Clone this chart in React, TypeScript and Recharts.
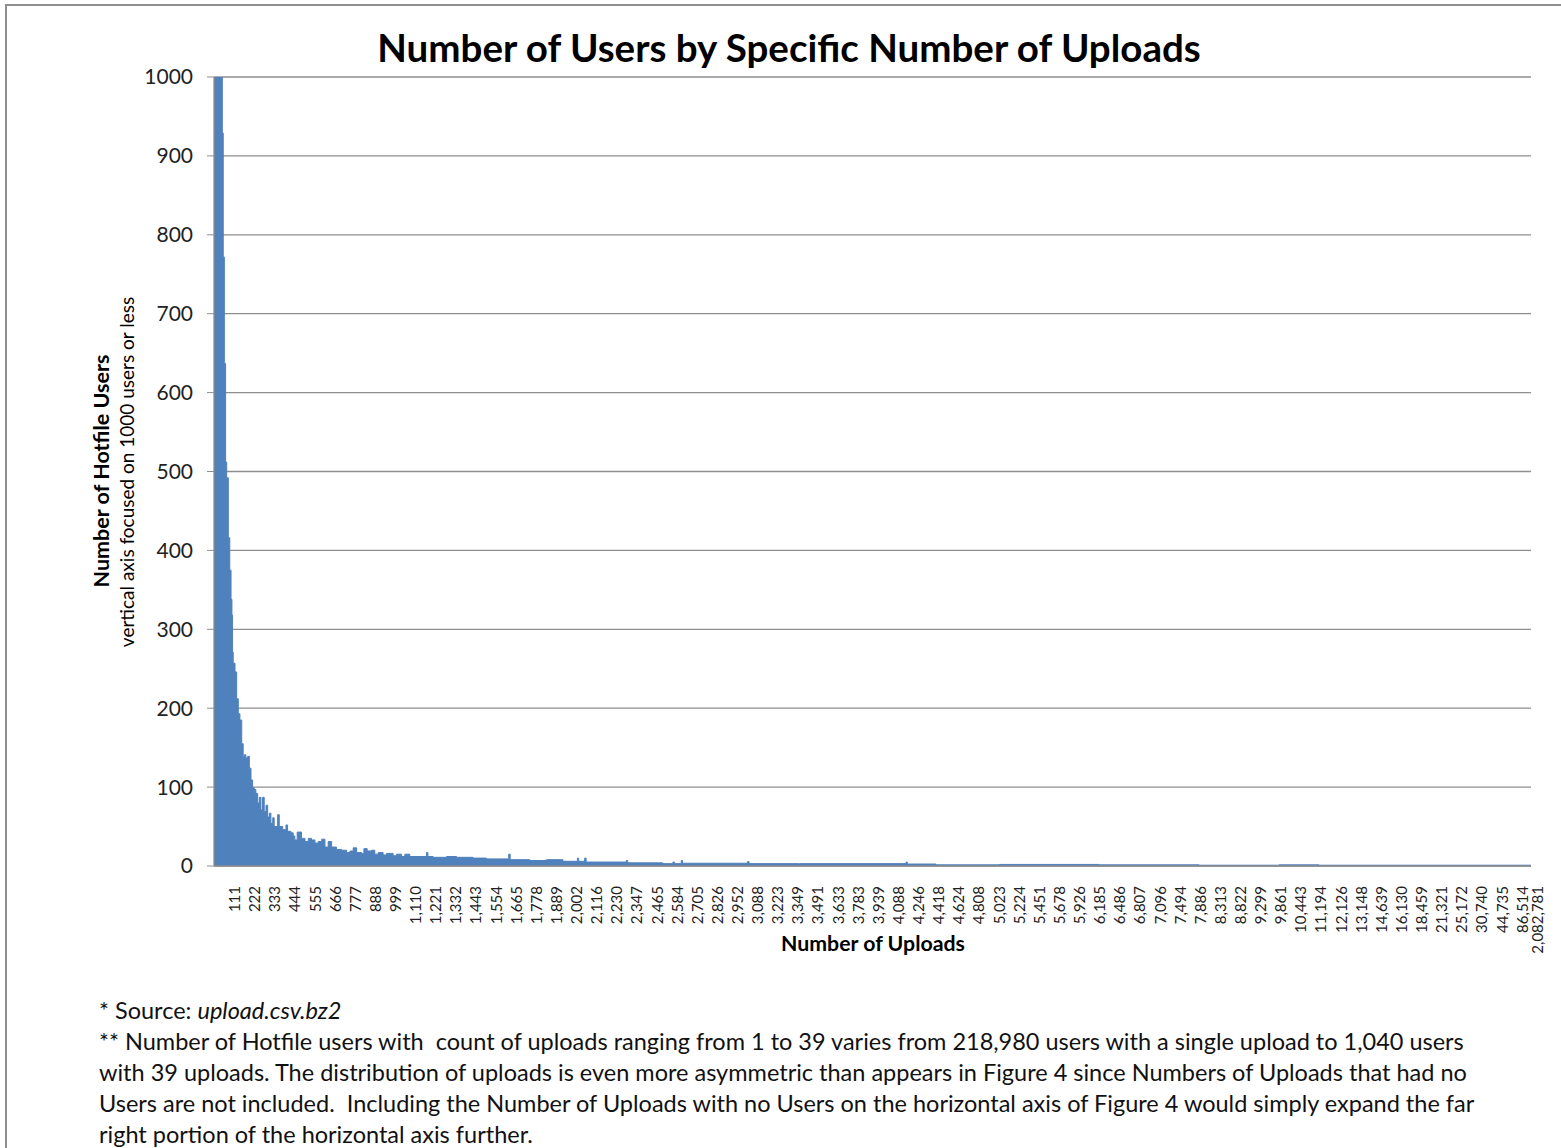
import { AreaChart, Area, XAxis, YAxis, CartesianGrid } from 'recharts';

// rank of the upload count among all counts that have users (x position, one bar per rank)
const sampleIndex = [
    0, 39, 46, 51, 57, 64, 70, 79, 87, 94, 99, 102, 106, 116, 125, 134, 143, 153, 161,
    167, 176, 186, 195, 204, 213, 222, 231, 241, 250, 259, 268, 277, 287, 296, 305, 314,
    324, 332, 351, 360, 379, 397, 406, 424, 437, 446, 459, 474, 483, 502, 520, 538, 557,
    575, 594, 612, 630, 649, 676, 704, 731, 750, 768, 787, 814, 827, 845, 869, 887, 906,
    933, 952, 988, 1007, 1035, 1053, 1080, 1172, 1180, 1209, 1283, 1338, 1429, 1503, 1626,
    1634, 1742, 1834, 1925, 2005, 2012, 2045, 2053, 2201, 2275, 2282, 2385, 2476, 2532,
    2541, 2578, 2585, 2943, 2952, 3230, 3818, 3825, 3983, 4332, 4883, 5435, 5876, 6096, 7266,
];

// number of users at that rank (axis capped at 1000)
const sampleUsers = [
    218980, 1040, 929, 772, 637, 512, 492, 416, 375, 338, 318, 271, 257, 246, 212, 193, 185, 155, 138,
    141, 137, 139, 124, 109, 99, 97, 92, 80, 87, 71, 87, 69, 77, 62, 67, 54,
    61, 50, 65, 50, 46, 52, 44, 42, 38, 33, 43, 43, 35, 31, 35, 33, 29,
    31, 34, 24, 31, 24, 21, 20, 17, 19, 23, 17, 16, 22, 19, 20, 15, 17,
    14, 16, 13, 15, 12, 15, 12, 17, 12, 11, 12, 11, 10, 9, 15,
    8, 7, 8, 6, 10, 6, 10, 5, 5, 7, 4, 4, 3, 5,
    3, 7, 3.5, 5.5, 3, 3, 5, 2.5, 1.5, 2, 1.5, 1, 1.5, 1, 1,
];

const TOTAL_CATEGORIES = 7266;

const tickLabels = [
    '111', '222', '333', '444', '555', '666', '777', '888', '999', '1,110', '1,221', '1,332',
    '1,443', '1,554', '1,665', '1,778', '1,889', '2,002', '2,116', '2,230', '2,347', '2,465',
    '2,584', '2,705', '2,826', '2,952', '3,088', '3,223', '3,349', '3,491', '3,633', '3,783',
    '3,939', '4,088', '4,246', '4,418', '4,624', '4,808', '5,023', '5,224', '5,451', '5,678',
    '5,926', '6,185', '6,486', '6,807', '7,096', '7,494', '7,886', '8,313', '8,822', '9,299',
    '9,861', '10,443', '11,194', '12,126', '13,148', '14,639', '16,130', '18,459', '21,321',
    '25,172', '30,740', '44,735', '86,514', '2,082,781',
];

const yTicks = [0, 100, 200, 300, 400, 500, 600, 700, 800, 900, 1000];

const footnotes = [
    '** Number of Hotfile users with  count of uploads ranging from 1 to 39 varies from 218,980 users with a single upload to 1,040 users',
    'with 39 uploads. The distribution of uploads is even more asymmetric than appears in Figure 4 since Numbers of Uploads that had no',
    'Users are not included.  Including the Number of Uploads with no Users on the horizontal axis of Figure 4 would simply expand the far',
    'right portion of the horizontal axis further.',
];

// every 111th category is labelled, plus the last one
const tickPositions = tickLabels.map((_, i) =>
    i === tickLabels.length - 1 ? TOTAL_CATEGORIES - 0.5 : (i + 1) * 111 - 0.5
);
const labelAt: Record<number, string> = {};
tickPositions.forEach((p, i) => { labelAt[p] = tickLabels[i]; });

const chartData = sampleIndex.map((idx, i) => ({ idx, users: sampleUsers[i] }));

const FONT = 'Lato, "Open Sans", sans-serif';
const GRID = '#8e8e8e';

const XTick = ({ x, y, payload }: any) => {
    // the last label sits a little past the end of the axis, clear of its neighbour
    const tx = payload.value === TOTAL_CATEGORIES - 0.5 ? x + 6 : x;
    const ty = y + 12;
    return (
        <text
            x={tx}
            y={ty}
            transform={`rotate(-90, ${tx}, ${ty})`}
            textAnchor="end"
            dominantBaseline="central"
            fontSize={15}
            fontFamily={FONT}
            fill="#222"
        >
            {labelAt[payload.value] ?? ''}
        </text>
    );
};

export default function App() {
    return (
        <div style={{ position: 'absolute', left: 0, top: 0, width: 1561, height: 1148, overflow: 'hidden', background: '#fff', fontFamily: FONT }}>
            <div style={{ position: 'absolute', left: 5, top: 4, width: 1600, height: 1200, border: '2px solid #8f8f8f' }} />

            <div style={{ position: 'absolute', left: 0, top: 0 }}>
                <AreaChart width={1561} height={1148} data={chartData} margin={{ top: 77, right: 30, left: 0, bottom: 202 }}>
                    <CartesianGrid vertical={false} stroke={GRID} strokeWidth={1.3} />
                    <XAxis
                        type="number"
                        dataKey="idx"
                        domain={[0, TOTAL_CATEGORIES]}
                        ticks={tickPositions}
                        interval={0}
                        tick={<XTick />}
                        tickLine={false}
                        axisLine={{ stroke: GRID, strokeWidth: 1.3 }}
                        height={80}
                        allowDataOverflow
                    />
                    <YAxis
                        type="number"
                        domain={[0, 1000]}
                        ticks={yTicks}
                        interval={0}
                        allowDataOverflow
                        width={214}
                        tickSize={7}
                        tickMargin={14}
                        tickLine={{ stroke: GRID }}
                        axisLine={{ stroke: GRID, strokeWidth: 1.3 }}
                        tick={{ fontSize: 21, fontFamily: FONT, fill: '#222' }}
                    />
                    <Area
                        type="stepAfter"
                        dataKey="users"
                        stroke="#4F81BD"
                        strokeWidth={1}
                        fill="#4F81BD"
                        fillOpacity={1}
                        isAnimationActive={false}
                    />
                </AreaChart>
            </div>

            <div style={{ position: 'absolute', left: 0, width: 1578, top: 24, textAlign: 'center', fontSize: 38.5, fontWeight: 700, color: '#000' }}>
                Number of Users by Specific Number of Uploads
            </div>

            <svg style={{ position: 'absolute', left: 0, top: 0 }} width={300} height={1148}>
                <text x={101} y={471} transform="rotate(-90, 101, 471)" textAnchor="middle" dominantBaseline="central" fontSize={21.5} fontWeight={700} fontFamily={FONT} fill="#000">
                    Number of Hotfile Users
                </text>
                <text x={126} y={472} transform="rotate(-90, 126, 472)" textAnchor="middle" dominantBaseline="central" fontSize={19} fontFamily={FONT} fill="#000">
                    vertical axis focused on 1000 users or less
                </text>
            </svg>

            <div style={{ position: 'absolute', left: 723, width: 300, top: 930, textAlign: 'center', fontSize: 21.3, fontWeight: 700, color: '#000' }}>
                Number of Uploads
            </div>

            <div style={{ position: 'absolute', left: 99, top: 995, fontSize: 23.5, lineHeight: '31px', color: '#111', whiteSpace: 'pre' }}>
                <div>* Source: <i>upload.csv.bz2</i></div>
                {footnotes.map((line, i) => <div key={i}>{line}</div>)}
            </div>
        </div>
    );
}
